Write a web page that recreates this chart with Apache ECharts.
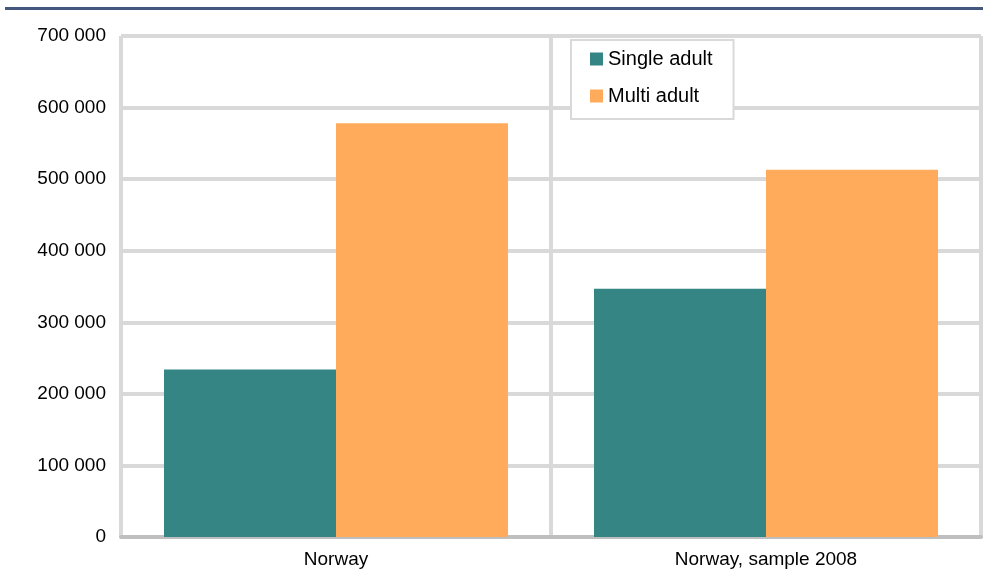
<!DOCTYPE html>
<html>
<head>
<meta charset="utf-8">
<script src="https://cdn.jsdelivr.net/npm/echarts@6/dist/echarts.min.js"></script>
<style>html,body{margin:0;padding:0;background:#fff;}#c{width:983px;height:574px;}</style>
</head>
<body>
<div id="c"></div>
<script>
var categories = ['Norway', 'Norway, sample 2008'];
var seriesNames = ['Single adult', 'Multi adult'];
var singleAdult = [234000, 347000];
var multiAdult = [578000, 513000];
var yTicks = [0, 100000, 200000, 300000, 400000, 500000, 600000, 700000];

function fmt(v) {
  return String(v).replace(/\B(?=(\d{3})+(?!\d))/g, ' ');
}

var chart = echarts.init(document.getElementById('c'));
var font = 'Liberation Sans, Arial, sans-serif';
chart.setOption({
  animation: false,
  textStyle: { fontFamily: font },
  graphic: [{
    type: 'rect', shape: { x: 5, y: 7, width: 978, height: 3 },
    style: { fill: '#44587f' }, silent: true
  }],
  grid: { left: 121, right: 2, top: 36, bottom: 37, containLabel: false },
  legend: {
    orient: 'vertical', left: 571, top: 40,
    padding: [9, 21, 13, 19],
    backgroundColor: '#fff', borderColor: '#d9d9d9', borderWidth: 2,
    itemWidth: 13, itemHeight: 13, itemGap: 17,
    icon: 'rect',
    textStyle: { fontSize: 20, color: '#000', fontFamily: font },
    data: seriesNames
  },
  xAxis: {
    type: 'category', data: categories,
    axisLine: { show: true, lineStyle: { color: '#bfbfbf', width: 4, cap: 'round' } },
    axisTick: { show: false },
    splitLine: { show: true, lineStyle: { color: '#d9d9d9', width: 4 } },
    axisLabel: { fontSize: 19, color: '#000', margin: 13, fontFamily: font }
  },
  yAxis: {
    type: 'value', min: yTicks[0], max: yTicks[yTicks.length - 1], interval: 100000,
    axisLine: { show: false }, axisTick: { show: false },
    splitLine: { show: true, lineStyle: { color: '#d9d9d9', width: 4 } },
    axisLabel: { fontSize: 19, color: '#000', margin: 15, fontFamily: font, formatter: fmt }
  },
  series: [
    { name: seriesNames[0], type: 'bar', data: singleAdult, barGap: '0%', barCategoryGap: '20%',
      itemStyle: { color: '#358585' } },
    { name: seriesNames[1], type: 'bar', data: multiAdult,
      itemStyle: { color: '#ffab5b' } }
  ]
});
</script>
</body>
</html>
